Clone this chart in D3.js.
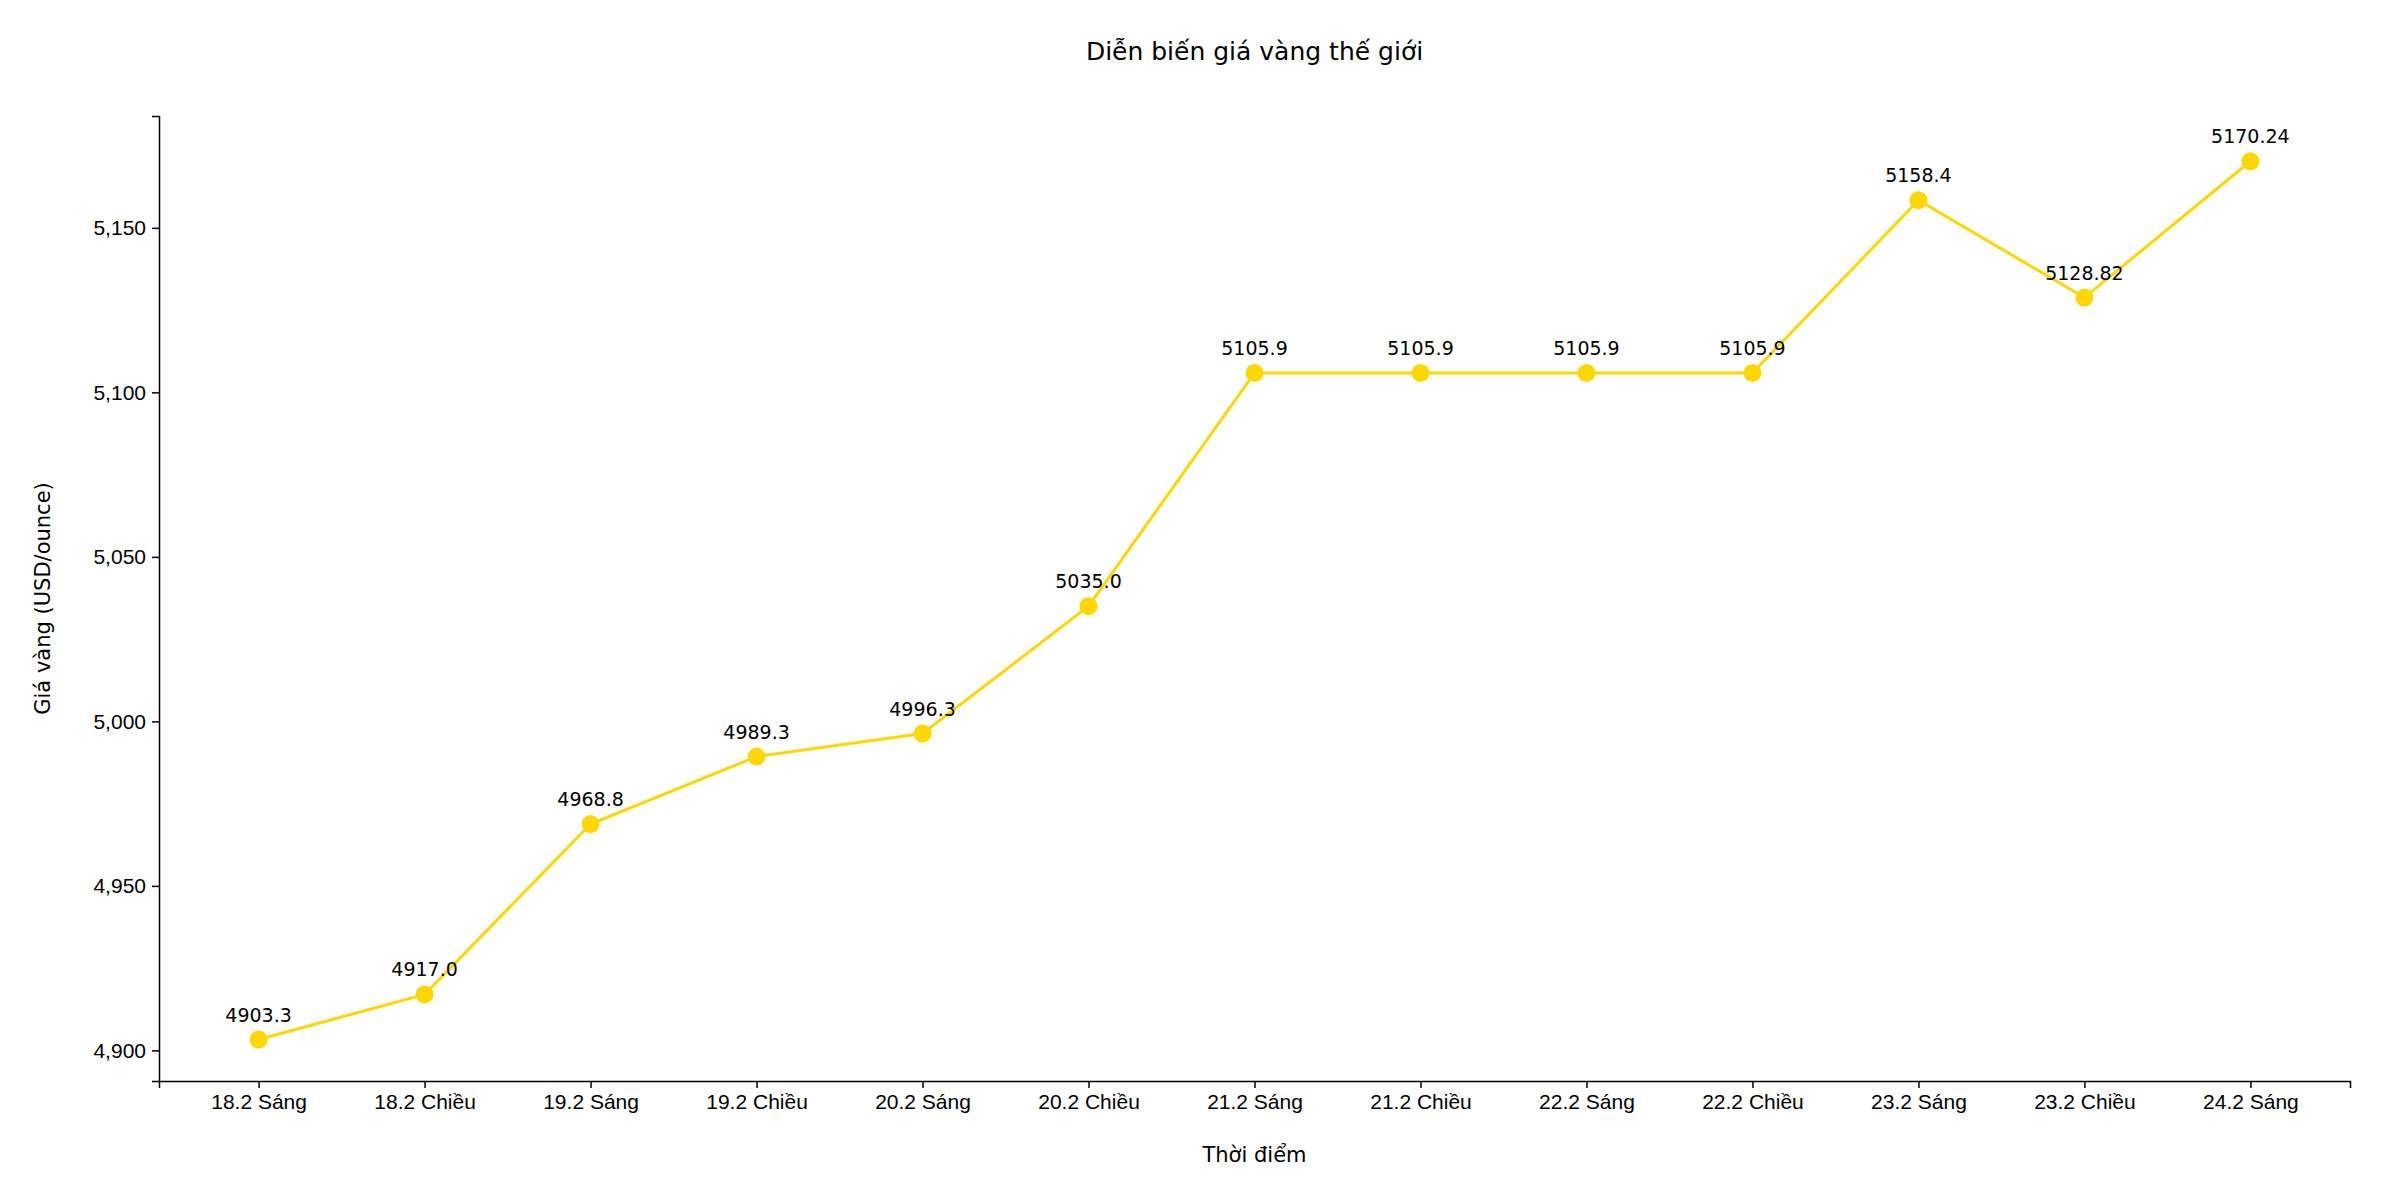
<!DOCTYPE html>
<html><head><meta charset="utf-8">
<script src="https://cdn.jsdelivr.net/npm/d3@7"></script>
<style>body{margin:0;background:#fff}svg{font-family:"DejaVu Sans",sans-serif}</style>
</head><body><svg id="c" width="2400" height="1200"></svg>
<script>
const categories=["18.2 Sáng","18.2 Chiều","19.2 Sáng","19.2 Chiều","20.2 Sáng","20.2 Chiều","21.2 Sáng","21.2 Chiều","22.2 Sáng","22.2 Chiều","23.2 Sáng","23.2 Chiều","24.2 Sáng"];
const prices=[4903.3,4917.0,4968.8,4989.3,4996.3,5035.0,5105.9,5105.9,5105.9,5105.9,5158.4,5128.82,5170.24];
const labels=["4903.3","4917.0","4968.8","4989.3","4996.3","5035.0","5105.9","5105.9","5105.9","5105.9","5158.4","5128.82","5170.24"];
const yTicks=[4900,4950,5000,5050,5100,5150];
const L=159,R=2350,T=116,B=1081;
const svg=d3.select("#c");
const x=d3.scaleLinear().domain([-0.6,12.6]).range([L,R]);
const y=d3.scaleLinear().domain([4890.7,5184]).range([B,T]);
const gx=svg.append("g").attr("transform",`translate(0,${B})`).call(d3.axisBottom(x).tickValues(d3.range(13)).tickFormat(i=>categories[i]).tickSize(7).tickPadding(6));
const gy=svg.append("g").attr("transform",`translate(${L},0)`).call(d3.axisLeft(y).tickValues(yTicks).tickSize(7).tickPadding(6));
[gx,gy].forEach(g=>{g.selectAll("text").attr("font-size",21).attr("fill","#000");g.selectAll("line,path").attr("stroke","#000").attr("stroke-width",1.5);});
const line=d3.line().x((d,i)=>x(i)).y(d=>y(d));
svg.append("path").datum(prices).attr("d",line).attr("fill","none").attr("stroke","#FFD700").attr("stroke-width",3);
svg.selectAll("circle").data(prices).join("circle").attr("cx",(d,i)=>x(i)).attr("cy",d=>y(d)).attr("r",9).attr("fill","#FFD700");
svg.selectAll(".lab").data(prices).join("text").attr("x",(d,i)=>x(i)).attr("y",d=>y(d)-18).attr("text-anchor","middle").attr("font-size",19).text((d,i)=>labels[i]);
svg.append("text").attr("x",(L+R)/2).attr("y",60).attr("text-anchor","middle").attr("font-size",25).text("Diễn biến giá vàng thế giới");
svg.append("text").attr("x",(L+R)/2).attr("y",1162).attr("text-anchor","middle").attr("font-size",21).text("Thời điểm");
svg.append("text").attr("transform",`translate(50,${(T+B)/2}) rotate(-90)`).attr("text-anchor","middle").attr("font-size",21).text("Giá vàng (USD/ounce)");
</script></body></html>
